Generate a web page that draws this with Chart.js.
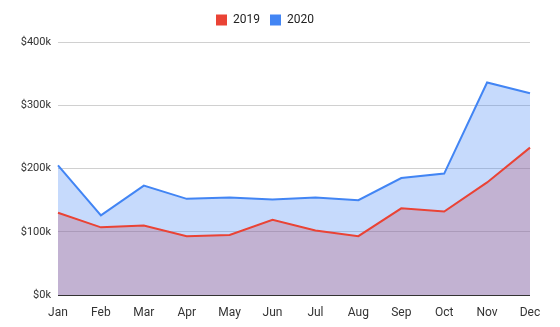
<!DOCTYPE html>
<html>
<head>
<meta charset="utf-8">
<script src="https://cdn.jsdelivr.net/npm/chart.js@4/dist/chart.umd.min.js"></script>
<style>
  html, body { margin: 0; padding: 0; background: #fff; }
  #wrap { width: 560px; height: 327px; }
</style>
</head>
<body>
<div id="wrap"><canvas id="chart"></canvas></div>
<script>
const months = ['Jan', 'Feb', 'Mar', 'Apr', 'May', 'Jun', 'Jul', 'Aug', 'Sep', 'Oct', 'Nov', 'Dec'];
const sales2019 = [130000, 107000, 110000, 93000, 95000, 119000, 102000, 93000, 137000, 132000, 178000, 233000];
const sales2020 = [205000, 126000, 173000, 152000, 154000, 151000, 154000, 150000, 185000, 192000, 336000, 319000];
const yTicks = [0, 100000, 200000, 300000, 400000];

Chart.defaults.font.family = 'Roboto, Arial, sans-serif';
Chart.defaults.color = '#444';

// a bit of room under the legend
const legendGap = {
  id: 'legendGap',
  beforeInit(chart) {
    const fit = chart.legend.fit;
    chart.legend.fit = function () {
      fit.bind(chart.legend)();
      this.height += 6;
    };
  },
};

// blue fill sits on top of the red one (gives the purple overlap), legend stays 2019 first
new Chart(document.getElementById('chart'), {
  type: 'line',
  data: {
    labels: months,
    datasets: [
      {
        label: '2019',
        data: sales2019,
        borderColor: '#ea4335',
        backgroundColor: 'rgba(234,67,53,0.3)',
        fill: 'origin',
        order: 1,
      },
      {
        label: '2020',
        data: sales2020,
        borderColor: '#4285f4',
        backgroundColor: 'rgba(66,133,244,0.3)',
        fill: 'origin',
        order: 0,
      },
    ],
  },
  plugins: [legendGap],
  options: {
    responsive: true,
    maintainAspectRatio: false,
    animation: false,
    layout: { padding: { left: 0, right: 30, top: 4, bottom: 0 } },
    elements: {
      line: { borderWidth: 2, tension: 0 },
      point: { radius: 0 },
    },
    plugins: {
      filler: { drawTime: 'beforeDatasetsDraw' },
      tooltip: { enabled: false },
      legend: {
        reverse: true,
        labels: {
          boxWidth: 11,
          boxHeight: 11,
          padding: 10,
          color: '#222',
          font: { size: 12 },
          generateLabels: (chart) =>
            Chart.defaults.plugins.legend.labels.generateLabels(chart).map((item) => ({
              ...item,
              fillStyle: chart.data.datasets[item.datasetIndex].borderColor,
              lineWidth: 0,
            })),
        },
      },
    },
    scales: {
      x: {
        offset: false,
        grid: { display: false },
        border: { display: false },
        ticks: { color: '#333', font: { size: 12 }, maxRotation: 0, padding: 3 },
        afterFit: (s) => { s.height = 32; },
      },
      y: {
        min: 0,
        max: 400000,
        afterBuildTicks: (s) => { s.ticks = yTicks.map((v) => ({ value: v })); },
        grid: {
          color: (ctx) => (ctx.tick && ctx.tick.value === 0 ? '#333' : '#d0d0d0'),
          drawTicks: false,
        },
        border: { display: false },
        ticks: {
          color: '#333',
          font: { size: 11 },
          padding: 7,
          callback: (v) => '$' + v / 1000 + 'k',
        },
        afterFit: (s) => { s.width = 58; },
      },
    },
  },
});
</script>
</body>
</html>
